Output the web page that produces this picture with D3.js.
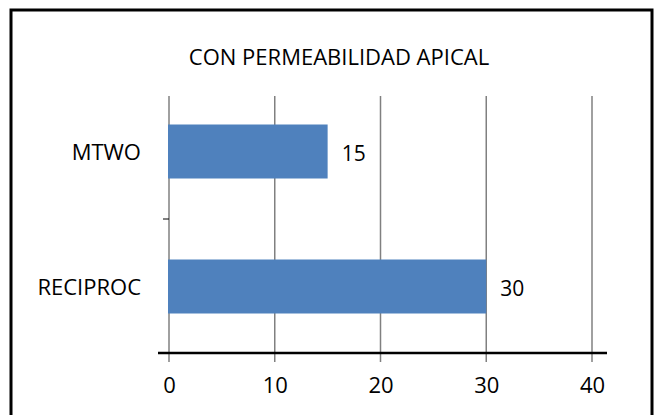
<!DOCTYPE html>
<html>
<head>
<meta charset="utf-8">
<script src="https://cdn.jsdelivr.net/npm/d3@7"></script>
<style>
  body { margin: 0; background: #fff; }
  svg text { font-family: "Open Sans", sans-serif; fill: #000; }
</style>
</head>
<body>
<svg id="chart"></svg>
<script>
const width = 658, height = 415;

// Chart data
const title = "CON PERMEABILIDAD APICAL";
const categories = ["MTWO", "RECIPROC"];
const values = [15, 30];
const xTicks = [0, 10, 20, 30, 40];

const svg = d3.select("#chart")
    .attr("width", width)
    .attr("height", height);

svg.append("rect")
    .attr("width", width).attr("height", height)
    .attr("fill", "#fff");

// outer frame
svg.append("rect")
    .attr("x", 11).attr("y", 10)
    .attr("width", 641).attr("height", 430)
    .attr("fill", "none")
    .attr("stroke", "#000")
    .attr("stroke-width", 3);

// Scales
const x = d3.scaleLinear().domain([0, 40]).range([169, 592]);
const y = d3.scaleBand()
    .domain(categories)
    .range([84, 354])
    .paddingInner(0.6)
    .paddingOuter(0.3);

const plotTop = 96, plotBottom = 353;

// Title
svg.append("text")
    .attr("x", 339).attr("y", 65)
    .attr("text-anchor", "middle")
    .style("font-size", "22px")
    .text(title);

// Gridlines (extend below the axis as tick marks)
svg.append("g")
    .selectAll("line")
    .data(xTicks)
    .join("line")
    .attr("x1", d => x(d)).attr("x2", d => x(d))
    .attr("y1", plotTop).attr("y2", plotBottom + 9)
    .attr("stroke", "#808080")
    .attr("stroke-width", 1.5);

// Bars
svg.append("g")
    .selectAll("rect")
    .data(categories)
    .join("rect")
    .attr("x", x(0) - 1)
    .attr("y", d => y(d))
    .attr("width", (d, i) => x(values[i]) - x(0) + 1)
    .attr("height", y.bandwidth())
    .attr("fill", "#4F81BD");

// Category separator tick on the value axis
svg.append("line")
    .attr("x1", x(0) - 6).attr("x2", x(0))
    .attr("y1", y.range()[0] + y.step()).attr("y2", y.range()[0] + y.step())
    .attr("stroke", "#000")
    .attr("stroke-width", 1);

// X axis
const xAxis = svg.append("g")
    .attr("transform", `translate(0,${plotBottom})`)
    .call(d3.axisBottom(x).tickValues(xTicks).tickSize(0).tickPadding(24));
xAxis.select(".domain").remove();
xAxis.selectAll("text")
    .style("font-size", "22px")
    .style("font-family", "'Open Sans', sans-serif")
    .attr("fill", "#000");

svg.append("line")
    .attr("x1", 158).attr("x2", 607)
    .attr("y1", plotBottom).attr("y2", plotBottom)
    .attr("stroke", "#000")
    .attr("stroke-width", 2.5);

// Category labels
svg.append("g")
    .selectAll("text")
    .data(categories)
    .join("text")
    .attr("x", 141)
    .attr("y", d => y(d) + y.bandwidth() / 2)
    .attr("dy", "0.38em")
    .attr("text-anchor", "end")
    .style("font-size", "22px")
    .text(d => d);

// Value labels
svg.append("g")
    .selectAll("text")
    .data(categories)
    .join("text")
    .attr("x", (d, i) => x(values[i]) + 14)
    .attr("y", d => y(d) + y.bandwidth() / 2)
    .attr("dy", "0.45em")
    .style("font-size", "21px")
    .text((d, i) => values[i]);
</script>
</body>
</html>
